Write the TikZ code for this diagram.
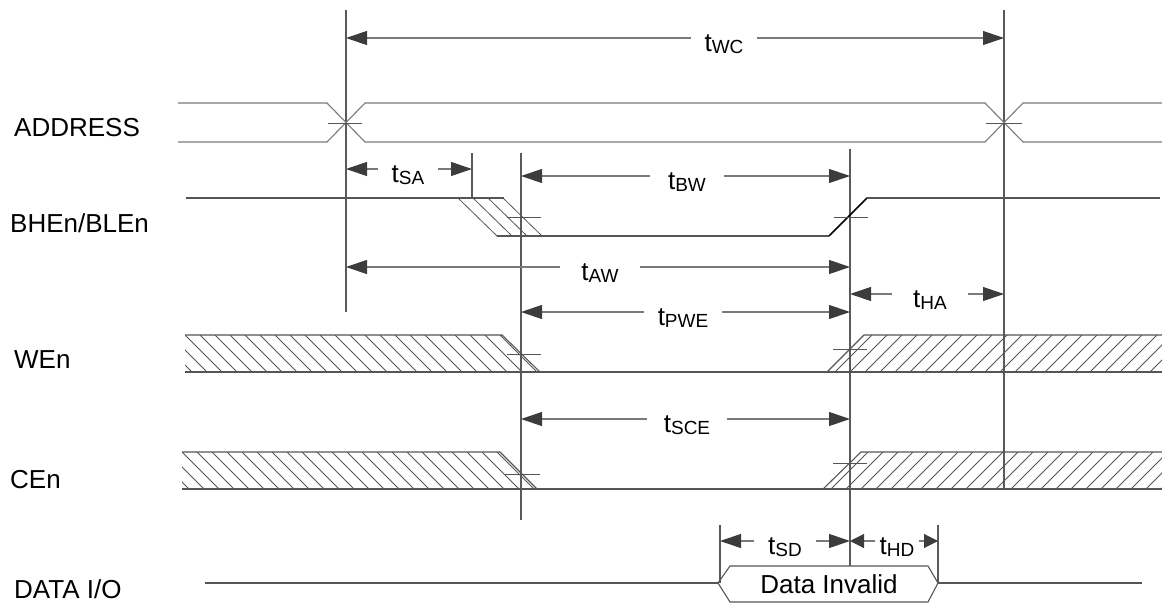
\documentclass[tikz,border=0pt]{standalone}
\usepackage{fontspec}
\setmainfont{Liberation Sans}
\usetikzlibrary{arrows.meta}

\definecolor{wavegray}{HTML}{555555}
\definecolor{busgray}{HTML}{7A7A7A}
\definecolor{guidegray}{HTML}{5A5A5A}
\definecolor{tipgray}{HTML}{3C3C3C}

% time label with subscript
\newcommand{\tsub}[1]{t\raisebox{-2.5pt}{\fontsize{19}{19}\selectfont #1}}

\tikzset{
    % Waveform styles
    wave/.style={line width=1.1pt, draw=wavegray},
    bus/.style={line width=1.1pt, draw=busgray},
    edge/.style={line width=1.7pt, black},
    hatch/.style={line width=0.8pt, draw=wavegray},
    tickmark/.style={line width=1pt, draw=wavegray},
    % Time marker lines and dimension arrows
    guide/.style={line width=1.1pt, draw=guidegray},
    dim/.style={-{Triangle[length=21pt,width=14pt,color=tipgray]}, line width=1.1pt, draw=busgray},
    dim short/.style={-{Triangle[length=14pt,width=14pt,color=tipgray]}, line width=1.1pt, draw=busgray},
    % Labels
    tlabel/.style={font=\fontsize{26}{30}\selectfont, anchor=base, yshift=-13pt, inner ysep=0pt},
    signame/.style={font=\fontsize{26}{30}\selectfont, anchor=base west, inner sep=0pt},
}

\begin{document}
\begin{tikzpicture}[x=1pt, y=-1pt]
    \useasboundingbox (0,0) rectangle (1162,605);

    % Time marks
    \coordinate (T0) at (346,0);
    \coordinate (T1) at (472,0);
    \coordinate (T2) at (521,0);
    \coordinate (T3) at (850,0);
    \coordinate (T4) at (1004,0);
    \coordinate (T5) at (720,0);
    \coordinate (T6) at (938,0);

    % Guide lines
    \draw[guide] (346,10) -- (346,312);
    \draw[guide] (472,153) -- (472,198);
    \draw[guide] (521,153) -- (521,520);
    \draw[guide] (850,149) -- (850,566);
    \draw[guide] (1004,10) -- (1004,489);
    \draw[guide] (720,525) -- (720,583);
    \draw[guide] (938,525) -- (938,583);

    % Signal names
    \node[signame] (addr) at (14,136) {ADDRESS};
    \node[signame] (bhe) at (10,232) {BHEn/BLEn};
    \node[signame] (wen) at (14,368) {WEn};
    \node[signame] (cen) at (10,488) {CEn};
    \node[signame] (dio) at (14,598) {DATA I/O};

    % ADDRESS
    \draw[bus] (178,103) -- (327,103) -- (365,142) -- (985,142) -- (1023,103) -- (1162,103);
    \draw[bus] (178,142) -- (327,142) -- (365,103) -- (985,103) -- (1023,142) -- (1162,142);
    \draw[tickmark] (328,123) -- (362,123);
    \draw[tickmark] (986,123) -- (1022,123);

    % BHEn/BLEn
    \draw[wave] (186,198) -- (504,198);
    \draw[wave] (497,236) -- (829,236);
    \foreach \k in {0,...,3}
        \draw[hatch] ({458+15*\k},198) -- ++(39,38);
    \draw[edge] (829,236) -- (867,198);
    \draw[wave] (867,198) -- (1160,198);
    \draw[tickmark] (507,217) -- (541,217);
    \draw[tickmark] (834,217) -- (868,217);

    % WEn
    \begin{scope}
        \clip (185,335) -- (502,335) -- (540,372) -- (185,372) -- cycle;
        \foreach \x in {140,155,...,560}
            \draw[hatch] (\x,335) -- ++(37,37);
    \end{scope}
    \begin{scope}
        \clip (864,335) -- (1162,335) -- (1162,372) -- (827,372) -- cycle;
        \foreach \x in {820,835,...,1170}
            \draw[hatch] (\x,372) -- ++(37,-37);
    \end{scope}
    \draw[wave] (185,335) -- (502,335) -- (540,372);
    \draw[wave] (185,372) -- (1162,372);
    \draw[wave] (827,372) -- (864,335) -- (1162,335);
    \draw[tickmark] (507,354) -- (541,354);
    \draw[tickmark] (833,349) -- (867,349);

    % CEn
    \begin{scope}
        \clip (182,452) -- (500,452) -- (537,489) -- (182,489) -- cycle;
        \foreach \x in {137,152,...,560}
            \draw[hatch] (\x,452) -- ++(37,37);
    \end{scope}
    \begin{scope}
        \clip (861,452) -- (1162,452) -- (1162,489) -- (823,489) -- cycle;
        \foreach \x in {816,831,...,1170}
            \draw[hatch] (\x,489) -- ++(37,-37);
    \end{scope}
    \draw[wave] (182,452) -- (500,452) -- (537,489);
    \draw[wave] (182,489) -- (1162,489);
    \draw[wave] (823,489) -- (861,452) -- (1162,452);
    \draw[tickmark] (505,474) -- (540,474);
    \draw[tickmark] (833,463) -- (867,463);

    % DATA I/O
    \draw[wave] (205,583) -- (718,583);
    \draw[wave] (718,583) -- (730,566) -- (928,566) -- (938,583) -- (928,602) -- (730,602) -- cycle;
    \draw[wave] (938,583) -- (1142,583);
    \node[font=\fontsize{26}{30}\selectfont] (inval) at (829,584) {Data Invalid};

    % Timing arrows
    \foreach \nm/\x/\y/\sub/\a/\b/\g in {wc/724/38/WC/T0/T4/13, sa/408/169/SA/T0/T1/14,
            bw/687/176/BW/T2/T3/18, aw/600/267/AW/T0/T3/21, pwe/683/312/PWE/T2/T3/14,
            ha/930/294/HA/T3/T4/21, sce/687/419/SCE/T2/T3/17, sd/785/541/SD/T5/T3/14} {
        \coordinate (\nm) at (\x,\y);
        \node[tlabel, inner xsep=\g pt] (t\nm) at (\nm) {\tsub{\sub}};
        \draw[dim] (t\nm.west |- \nm) -- (\nm -| \a);
        \draw[dim] (t\nm.east |- \nm) -- (\nm -| \b);
    }
    \coordinate (hd) at (897,541);
    \node[tlabel, inner xsep=4pt] (thd) at (hd) {\tsub{HD}};
    \draw[dim short] (thd.west |- hd) -- (hd -| T3);
    \draw[dim short] (thd.east |- hd) -- (hd -| T6);
\end{tikzpicture}
\end{document}
